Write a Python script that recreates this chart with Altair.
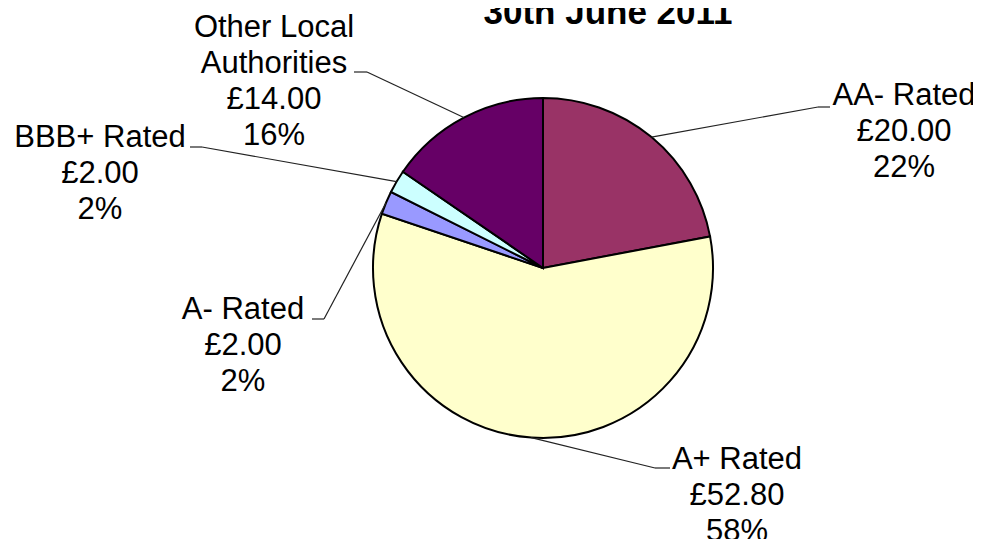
import altair as alt
import numpy as np
import pandas as pd

# ---- data ----
categories = ["AA- Rated", "A+ Rated", "A- Rated", "BBB+ Rated", "Other Local Authorities"]
label_names = ["AA- Rated", "A+ Rated", "A- Rated", "BBB+ Rated", "Other Local\nAuthorities"]
values = [20.00, 52.80, 2.00, 2.00, 14.00]
amount_labels = ["£20.00", "£52.80", "£2.00", "£2.00", "£14.00"]
pct_labels = ["22%", "58%", "2%", "2%", "16%"]
colors = ["#993366", "#FFFFCC", "#9999FF", "#CCFFFF", "#660066"]
title_text = "30th June 2011"

# ---- layout (plot-area pixels) ----
W, H = 965, 531
CX, CY, R = 535, 260, 170
label_x = [896, 729, 235, 92, 266]
label_y = [97, 461, 311, 139, 29]
elbow_x = [810, 647, 316, 194, 359]
elbow_y = [99, 460, 311, 139, 64]
end_x = [822, 662, 304, 182, 346]

df = pd.DataFrame({
    "idx": list(range(len(categories))),
    "cat": categories,
    "value": values,
})

vals = np.array(values)
cum = np.cumsum(vals)
mid = (cum - vals / 2) / vals.sum() * 2 * np.pi
sx = CX + R * np.sin(mid)
sy = CY - R * np.cos(mid)

seg1 = pd.DataFrame({"x": sx, "y": sy, "x2": elbow_x, "y2": elbow_y})
seg2 = pd.DataFrame({"x": elbow_x, "y": elbow_y, "x2": end_x, "y2": elbow_y})
leaders_df = pd.concat([seg1, seg2], ignore_index=True)

labels_df = pd.DataFrame({
    "lx": label_x,
    "ly": label_y,
    "label": [f"{n}\n{a}\n{p}" for n, a, p in zip(label_names, amount_labels, pct_labels)],
})

title_df = pd.DataFrame({"tx": [600], "ty": [16], "t": [title_text]})

pie = alt.Chart(df).mark_arc(outerRadius=R, stroke="black", strokeWidth=2).encode(
    theta=alt.Theta("value:Q", stack=True),
    color=alt.Color("cat:N", scale=alt.Scale(domain=categories, range=colors), legend=None),
    order=alt.Order("idx:Q"),
    x=alt.value(CX),
    y=alt.value(CY),
)

leaders = alt.Chart(leaders_df).mark_rule(color="#222222", strokeWidth=1.2).encode(
    x=alt.X("x:Q", scale=None, axis=None),
    y=alt.Y("y:Q", scale=None, axis=None),
    x2="x2:Q",
    y2="y2:Q",
)

labels = alt.Chart(labels_df).mark_text(
    font="Liberation Sans", fontSize=31, lineBreak="\n", lineHeight=36,
    align="center", baseline="alphabetic", color="black",
).encode(
    x=alt.X("lx:Q", scale=None, axis=None),
    y=alt.Y("ly:Q", scale=None, axis=None),
    text="label:N",
)

title = alt.Chart(title_df).mark_text(
    font="Liberation Sans", fontSize=35, fontWeight="bold",
    align="center", baseline="alphabetic", color="black",
).encode(
    x=alt.X("tx:Q", scale=None, axis=None),
    y=alt.Y("ty:Q", scale=None, axis=None),
    text="t:N",
)

chart = alt.layer(pie, leaders, labels, title).properties(
    width=W, height=H, padding=0, autosize="none"
).configure_view(stroke=None)

chart.save("out.html", embed_options={"renderer": "svg", "actions": False})
